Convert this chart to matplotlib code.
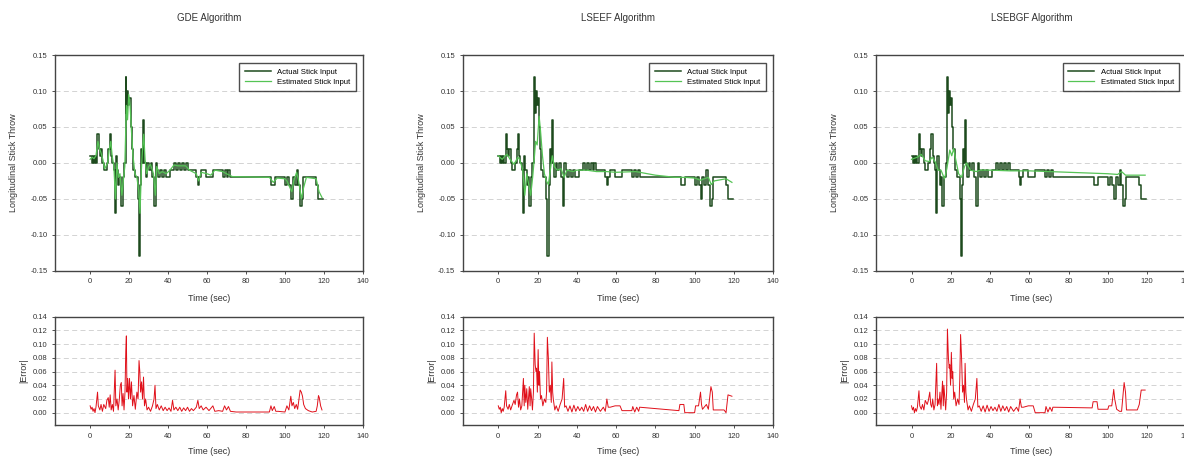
import matplotlib

matplotlib.use("Agg")
import matplotlib.pyplot as plt  # noqa: E402

# actual stick input (step signal, shared by all three algorithms)
act_t = [0, 1, 1.5, 2, 2.5, 3, 3.7, 4.3, 5, 5.6, 6.3, 7, 8.5, 9.3, 10.1, 10.7,
         11.3, 12, 12.6, 13.2, 13.8, 14.4, 15, 15.7, 16.8, 17.4, 18.2, 18.6, 19.0,
         19.5, 20.0, 20.8, 21.3, 22, 23, 24.5, 25.0, 25.7, 26.2, 26.8, 27.3, 27.9,
         28.5, 29.2, 30, 31, 32, 33, 33.7, 34.3, 35, 36, 37, 38, 39, 41, 43, 44,
         45, 46, 47, 48, 49, 50, 54.5, 55.3, 56, 57, 59.5, 63, 68, 69, 70, 71, 72,
         93, 95, 100, 101, 102, 103, 104, 105, 106, 106.8, 107.6, 108.6, 109.3,
         116, 117, 119.5]
act_v = [0.01, 0.00, 0.01, 0.00, 0.01, 0.00, 0.04, 0.02, 0.01, 0.02, 0.00, -0.01,
         0.00, 0.02, 0.04, 0.01, 0.00, -0.01, -0.07, 0.01, -0.01, -0.03, -0.02,
         -0.06, -0.02, 0.00, 0.12, 0.07, 0.10, 0.08, 0.09, 0.05, 0.02, -0.01, -0.02,
         -0.05, -0.13, -0.03, 0.02, 0.00, 0.06, 0.00, -0.02, 0.00, -0.01, 0.00,
         -0.02, -0.06, 0.00, -0.01, -0.02, -0.01, -0.02, -0.01, -0.02, -0.01, 0.00,
         -0.01, 0.00, -0.01, 0.00, -0.01, 0.00, -0.01, -0.02, -0.03, -0.02, -0.01,
         -0.02, -0.01, -0.02, -0.01, -0.02, -0.01, -0.02, -0.03, -0.02, -0.03,
         -0.02, -0.03, -0.05, -0.02, -0.03, -0.01, -0.03, -0.06, -0.05, -0.02,
         -0.03, -0.05, -0.05]

# estimated stick input per algorithm
gde_est_t = [0, 1, 2, 3, 4, 4.8, 5.5, 6.5, 7.5, 9, 9.8, 10.6, 11.3, 12.2, 13, 13.7,
             14.5, 15.3, 16.3, 17.2, 17.8, 18.6, 19.2, 19.8, 20.5, 21.2, 22, 23, 24,
             25, 25.6, 26.3, 26.8, 27.5, 28.2, 29, 30, 31, 32.5, 33.5, 34.2, 35.5, 37,
             39, 41, 43, 45, 47, 49, 51, 54.5, 55.7, 57, 60, 62, 64, 68, 70, 73, 92,
             94, 96, 100, 101, 103.5, 104.5, 106, 107, 108.5, 109.5, 111, 116, 117.5,
             119]
gde_est_v = [0.005, 0.008, 0.006, 0.01, 0.03, 0.02, 0.015, 0.005, -0.008, 0.0, 0.018,
             0.03, 0.01, -0.005, -0.05, 0.0, -0.02, -0.015, -0.045, -0.02, -0.005,
             0.08, 0.06, 0.095, 0.08, 0.045, 0.01, -0.015, -0.02, -0.04, -0.07, -0.01,
             0.015, 0.04, 0.005, -0.015, -0.005, -0.002, -0.015, -0.045, -0.005,
             -0.015, -0.012, -0.015, -0.01, -0.003, -0.004, -0.004, -0.004, -0.01,
             -0.015, -0.025, -0.013, -0.015, -0.017, -0.01, -0.012, -0.015, -0.019,
             -0.02, -0.027, -0.021, -0.022, -0.025, -0.04, -0.025, -0.013, -0.025,
             -0.05, -0.035, -0.02, -0.022, -0.04, -0.048]

lseef_est_t = [0, 2, 3.5, 4.5, 6, 8, 10, 11, 12.5, 13.5, 14.5, 15.5, 16.5, 17.5, 18.3,
               19, 19.8, 20.8, 21.5, 22.5, 23.5, 24.5, 25.5, 26.5, 27.5, 28.5, 30, 32,
               33.5, 35, 38, 40, 45, 50, 55, 60, 70, 80, 90, 95, 100, 103, 105, 107,
               108.5, 110, 116, 119]
lseef_est_v = [0.01, 0.005, 0.01, 0.012, 0.005, -0.002, 0.008, 0.004, -0.01, -0.045,
               -0.015, -0.03, -0.045, -0.02, 0.005, 0.03, 0.025, 0.065, 0.045, 0.01,
               -0.015, -0.025, -0.03, -0.01, 0.01, -0.005, -0.01, -0.008, -0.02, -0.01,
               -0.012, -0.01, -0.01, -0.012, -0.012, -0.013, -0.012, -0.017, -0.02,
               -0.02, -0.021, -0.024, -0.022, -0.02, -0.03, -0.025, -0.022, -0.027]

lsebgf_est_t = [0, 3, 5, 7, 9, 10.5, 12, 13.5, 15, 16.8, 18, 19.5, 20.5, 21.5, 22.5,
                24, 25.5, 27, 28, 30, 33, 35, 40, 50, 60, 70, 80, 90, 100, 105, 107,
                109, 119]
lsebgf_est_v = [0.005, 0.008, 0.012, 0.003, 0.002, 0.008, 0.002, -0.01, -0.01, -0.022,
                -0.008, 0.018, 0.01, 0.02, 0.005, -0.015, -0.02, -0.005, 0.0, -0.01,
                -0.012, -0.01, -0.01, -0.011, -0.011, -0.012, -0.013, -0.014, -0.015,
                -0.016, -0.012, -0.017, -0.017]

# |error| per algorithm
gde_err_t = [0, 0.5, 1, 1.5, 2, 2.5, 3, 3.8, 4.2, 5, 5.6, 6.3, 7, 8, 8.6, 9.3, 9.8,
             10.3, 10.8, 11.4, 12, 12.8, 13.2, 13.8, 14.4, 15, 15.5, 16.0, 16.4, 16.9,
             17.4, 17.9, 18.3, 18.6, 18.9, 19.3, 19.7, 20.2, 20.7, 21.2, 21.8, 22.5,
             23.2, 24, 24.6, 25.1, 25.5, 25.9, 26.4, 26.9, 27.4, 27.9, 28.5, 29.2, 30,
             31, 32, 32.8, 33.3, 33.8, 34.5, 35.5, 36.5, 37.5, 38.5, 39.5, 40.5, 41.5,
             42.3, 43, 44, 45, 46, 47, 48, 49, 50, 51, 52, 53, 54.5, 55.3, 56, 57, 58,
             59.5, 61, 63, 64, 66, 68, 69, 70, 71, 72, 75, 92, 92.8, 93.5, 94.5, 95.3,
             96.5, 100, 101, 102, 103, 103.6, 104.3, 105, 105.8, 106.5, 107.2, 107.8,
             108.4, 109, 109.6, 110.5, 112, 114, 116, 116.6, 117.2, 117.6, 118.3, 119]
gde_err_v = [0.01, 0.005, 0.008, 0.002, 0.006, 0.0, 0.008, 0.03, 0.01, 0.004, 0.012,
             0.002, 0.012, 0.006, 0.018, 0.022, 0.008, 0.026, 0.004, 0.012, 0.002,
             0.062, 0.01, 0.02, 0.004, 0.02, 0.04, 0.044, 0.01, 0.028, 0.004, 0.03,
             0.09, 0.112, 0.03, 0.05, 0.02, 0.05, 0.02, 0.045, 0.01, 0.025, 0.005,
             0.03, 0.02, 0.076, 0.06, 0.03, 0.045, 0.02, 0.052, 0.01, 0.02, 0.004,
             0.008, 0.002, 0.01, 0.02, 0.04, 0.006, 0.012, 0.004, 0.01, 0.003, 0.008,
             0.003, 0.007, 0.002, 0.018, 0.004, 0.008, 0.003, 0.008, 0.002, 0.007,
             0.003, 0.008, 0.002, 0.006, 0.003, 0.008, 0.018, 0.006, 0.01, 0.004,
             0.008, 0.003, 0.01, 0.002, 0.003, 0.002, 0.01, 0.004, 0.009, 0.002, 0.001,
             0.001, 0.01, 0.003, 0.009, 0.002, 0.002, 0.001, 0.01, 0.004, 0.024, 0.01,
             0.015, 0.006, 0.012, 0.005, 0.02, 0.033, 0.03, 0.024, 0.012, 0.006, 0.003,
             0.001, 0.002, 0.01, 0.025, 0.022, 0.01, 0.004]

lseef_err_t = [0, 0.5, 1, 1.5, 2, 2.5, 3, 3.8, 4.2, 5, 5.6, 6.3, 7, 8, 8.6, 9.3, 9.8,
               10.3, 10.8, 11.4, 12, 12.8, 13.2, 13.5, 14.0, 14.5, 15, 15.8, 16.2, 16.5,
               17.0, 17.4, 17.9, 18.3, 18.8, 19.2, 19.5, 19.9, 20.3, 20.7, 21.0, 21.5,
               22, 22.7, 23.5, 24.2, 24.6, 25.0, 25.5, 26.0, 26.5, 27.0, 27.3, 27.7, 28,
               28.8, 29.5, 30.5, 31.5, 32.5, 33.3, 33.8, 34.5, 35.5, 36.5, 37.5, 38.5,
               39.5, 40.5, 41.5, 42.5, 43.5, 44.5, 45.5, 46.5, 47.5, 48.5, 49.5, 50.5,
               52, 53.5, 54.5, 55.3, 56, 57, 59.5, 62, 63, 68, 68.5, 69.5, 70.5, 71.5,
               72, 92, 92.5, 94.5, 95, 100, 100.5, 102, 103, 103.5, 104, 106, 107,
               108.3, 109, 109.5, 115, 116, 117, 119]
lseef_err_v = [0.01, 0.005, 0.008, 0.0, 0.006, 0.002, 0.008, 0.032, 0.01, 0.005, 0.012,
               0.004, 0.01, 0.018, 0.012, 0.026, 0.03, 0.008, 0.02, 0.004, 0.01, 0.05,
               0.01, 0.04, 0.015, 0.035, 0.005, 0.038, 0.01, 0.035, 0.02, 0.004, 0.03,
               0.116, 0.07, 0.06, 0.065, 0.03, 0.092, 0.04, 0.06, 0.02, 0.025, 0.01,
               0.02, 0.015, 0.03, 0.11, 0.08, 0.03, 0.04, 0.015, 0.074, 0.03, 0.02,
               0.004, 0.01, 0.002, 0.012, 0.02, 0.05, 0.008, 0.01, 0.002, 0.01, 0.001,
               0.011, 0.002, 0.009, 0.003, 0.008, 0.002, 0.012, 0.002, 0.01, 0.003,
               0.009, 0.001, 0.009, 0.002, 0.008, 0.002, 0.02, 0.008, 0.008, 0.01,
               0.01, 0.003, 0.003, 0.009, 0.001, 0.008, 0.002, 0.008, 0.003, 0.012,
               0.012, 0.0, 0.0, 0.01, 0.01, 0.03, 0.012, 0.005, 0.012, 0.005, 0.038,
               0.03, 0.004, 0.004, 0.0, 0.026, 0.024]

lsebgf_err_t = [0, 0.5, 1, 1.5, 2, 2.5, 3, 3.8, 4.2, 5, 5.6, 6.3, 7, 8, 8.6, 9.3, 9.8,
                10.3, 10.8, 11.4, 12, 12.8, 13.2, 13.5, 14.0, 14.5, 15, 15.8, 16.2,
                16.5, 17.0, 17.4, 17.9, 18.3, 18.8, 19.2, 19.5, 19.9, 20.3, 20.7, 21.0,
                21.5, 22, 22.7, 23.5, 24.2, 24.6, 25.0, 25.5, 26.0, 26.5, 27.0, 27.3,
                27.7, 28, 28.8, 29.5, 30.5, 31.5, 32.5, 33.3, 33.8, 34.5, 35.5, 36.5,
                37.5, 38.5, 39.5, 40.5, 41.5, 42.5, 43.5, 44.5, 45.5, 46.5, 47.5, 48.5,
                49.5, 50.5, 52, 53.5, 54.5, 55.3, 56, 57, 59.5, 62, 63, 68, 68.5, 69.5,
                70.5, 71.5, 72, 92, 92.5, 94.5, 95, 100, 100.5, 102, 103, 103.5, 104.5,
                106, 107, 108.3, 109, 109.5, 115, 116, 117, 119]
lsebgf_err_v = [0.01, 0.004, 0.008, 0.0, 0.006, 0.002, 0.008, 0.032, 0.01, 0.005, 0.012,
                0.004, 0.018, 0.012, 0.018, 0.03, 0.012, 0.008, 0.02, 0.004, 0.012,
                0.072, 0.01, 0.02, 0.012, 0.03, 0.005, 0.046, 0.01, 0.04, 0.02, 0.004,
                0.03, 0.122, 0.08, 0.065, 0.07, 0.04, 0.088, 0.05, 0.06, 0.02, 0.03,
                0.01, 0.02, 0.012, 0.05, 0.114, 0.08, 0.03, 0.04, 0.015, 0.072, 0.03,
                0.02, 0.004, 0.01, 0.002, 0.012, 0.02, 0.05, 0.008, 0.01, 0.002, 0.01,
                0.001, 0.011, 0.002, 0.009, 0.003, 0.008, 0.002, 0.012, 0.002, 0.01,
                0.003, 0.009, 0.001, 0.009, 0.002, 0.008, 0.002, 0.02, 0.008, 0.008,
                0.01, 0.01, 0.0, 0.0, 0.009, 0.001, 0.008, 0.002, 0.008, 0.007, 0.016,
                0.016, 0.005, 0.005, 0.01, 0.01, 0.034, 0.02, 0.005, 0.002, 0.002,
                0.044, 0.03, 0.004, 0.004, 0.012, 0.033, 0.033]

titles = ["GDE Algorithm", "LSEEF Algorithm", "LSEBGF Algorithm"]
est_series = [(gde_est_t, gde_est_v), (lseef_est_t, lseef_est_v),
              (lsebgf_est_t, lsebgf_est_v)]
err_series = [(gde_err_t, gde_err_v), (lseef_err_t, lseef_err_v),
              (lsebgf_err_t, lsebgf_err_v)]

x_ticks = [0, 20, 40, 60, 80, 100, 120, 140]
top_yticks = [-0.15, -0.10, -0.05, 0.00, 0.05, 0.10, 0.15]
err_yticks = [0.00, 0.02, 0.04, 0.06, 0.08, 0.10, 0.12, 0.14]

ACT_COLOR = "#1d4a1d"
EST_COLOR = "#55c455"
ERR_COLOR = "#e0101a"
TEXT_COLOR = "#333333"

plt.rcParams["font.family"] = "Liberation Sans"

fig = plt.figure(figsize=(11.84, 4.59), dpi=100)

col_left = [0.0465, 0.391, 0.740]
col_width = [0.260, 0.262, 0.262]


def _style(ax):
    for sp in ax.spines.values():
        sp.set_color("#444444")
        sp.set_linewidth(1.0)
    ax.tick_params(labelsize=5.5, colors=TEXT_COLOR, length=2, width=0.6)
    ax.set_xlim(-18, 140)
    ax.set_xticks(x_ticks)
    ax.set_xticklabels([str(v) for v in x_ticks])


for i in range(3):
    ax = fig.add_axes([col_left[i], 0.410, col_width[i], 0.470])
    _style(ax)
    ax.set_ylim(-0.15, 0.15)
    ax.set_yticks(top_yticks)
    ax.set_yticklabels([f"{v:.2f}" for v in top_yticks])
    for y in top_yticks[1:-1]:
        ax.axhline(y, color="#cccccc", lw=0.6, ls=(0, (6, 4)), zorder=0)
    ax.plot(act_t, act_v, drawstyle="steps-post", color=ACT_COLOR, lw=1.1,
            label="Actual Stick Input")
    et, ev = est_series[i]
    ax.plot(et, ev, color=EST_COLOR, lw=0.9, label="Estimated Stick Input")
    leg = ax.legend(loc="upper right", fontsize=5.6, frameon=True, fancybox=False,
                    handlelength=3.4, borderpad=0.7, labelspacing=0.3,
                    bbox_to_anchor=(0.99, 0.98))
    leg.get_frame().set_edgecolor("#222222")
    leg.get_frame().set_linewidth(1.0)
    ax.set_xlabel("Time (sec)", fontsize=6.5, color=TEXT_COLOR, labelpad=6)
    ax.set_ylabel("Longitudinal Stick Throw", fontsize=6.5, color=TEXT_COLOR,
                  labelpad=9)
    fig.text(col_left[i] + col_width[i] / 2, 0.960, titles[i], ha="center",
             va="center", fontsize=7, color=TEXT_COLOR)

    ax2 = fig.add_axes([col_left[i], 0.074, col_width[i], 0.236])
    _style(ax2)
    ax2.set_ylim(-0.018, 0.14)
    ax2.set_yticks(err_yticks)
    ax2.set_yticklabels([f"{v:.2f}" for v in err_yticks])
    for y in err_yticks[:-1]:
        ax2.axhline(y, color="#cccccc", lw=0.6, ls=(0, (6, 4)), zorder=0)
    rt, rv = err_series[i]
    ax2.plot(rt, rv, color=ERR_COLOR, lw=0.7)
    ax2.set_xlabel("Time (sec)", fontsize=6.5, color=TEXT_COLOR, labelpad=5)
    ax2.set_ylabel("|Error|", fontsize=6.5, color=TEXT_COLOR, labelpad=3)

fig.savefig("out.png", dpi=100)
